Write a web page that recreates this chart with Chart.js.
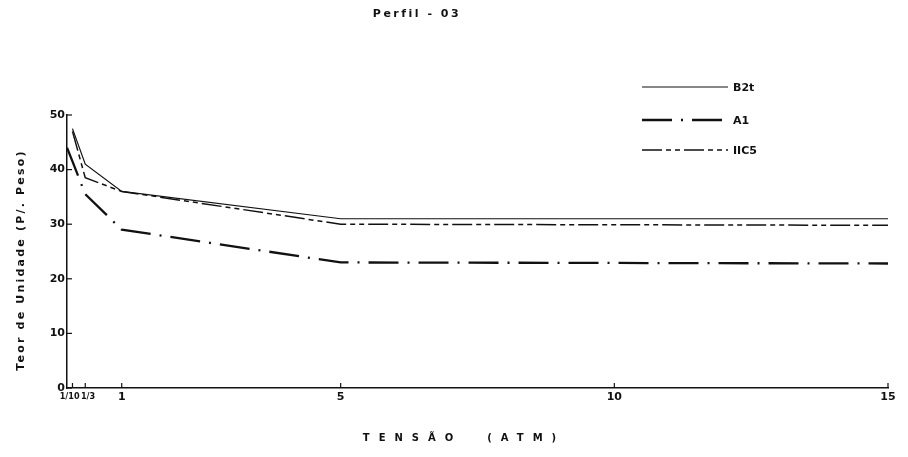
<!DOCTYPE html>
<html>
<head>
<meta charset="utf-8">
<script src="https://cdn.jsdelivr.net/npm/chart.js@4"></script>
<style>
  html, body { margin: 0; padding: 0; background: #fff; }
  canvas { display: block; }
</style>
</head>
<body>
<canvas id="perfilChart" width="908" height="457"></canvas>
<script>
// ------------------------------------------------------
// Perfil - 03 : teor de umidade x tensão
// ------------------------------------------------------

const chartTitle = "Perfil - 03";
const xTitle = "TENSÃO  (ATM)";
const yTitle = "Teor de Unidade (P/. Peso)";

// ticks do eixo X (tensão) e rótulos
const xTickValues = [0.1, 1 / 3, 1, 5, 10, 15];
const xTickLabels = ["1/10", "1/3", "1", "5", "10", "15"];
const yTickValues = [0, 10, 20, 30, 40, 50];

// séries
const seriesNames = ["B2t", "A1", "IIC5"];

const b2tX = [0.1, 1 / 3, 1, 5, 15];
const b2tY = [47.5, 41, 36, 31, 31];

const a1X = [0, 0.1, 1 / 3, 1, 5, 15];
const a1Y = [44, 41.5, 35.5, 29, 23, 22.8];

const iic5X = [0.1, 1 / 3, 1, 5, 15];
const iic5Y = [47, 38.5, 36, 30, 29.8];

function toPoints(xs, ys) {
    return xs.map((x, i) => ({ x: x, y: ys[i] }));
}

const INK = "#111";
const FONT = "'DejaVu Sans', sans-serif";
const FONT_COND = "'DejaVu Sans Condensed', sans-serif";

// títulos, legenda e marcas internas dos eixos
const decorPlugin = {
    id: "decor",
    afterDraw(chart) {
        const ctx = chart.ctx;
        const xs = chart.scales.x;
        const ys = chart.scales.y;
        ctx.save();
        ctx.strokeStyle = INK;
        ctx.fillStyle = INK;

        // marcas dos ticks (para dentro)
        ctx.lineWidth = 1.2;
        ctx.setLineDash([]);
        yTickValues.forEach(v => {
            const py = ys.getPixelForValue(v);
            ctx.beginPath();
            ctx.moveTo(xs.left, py);
            ctx.lineTo(xs.left + 5, py);
            ctx.stroke();
        });
        xTickValues.forEach(v => {
            const px = xs.getPixelForValue(v);
            ctx.beginPath();
            ctx.moveTo(px, ys.bottom);
            ctx.lineTo(px, ys.bottom - 5);
            ctx.stroke();
        });

        // título
        ctx.font = "bold 11px " + FONT;
        ctx.letterSpacing = "2.5px";
        ctx.textAlign = "center";
        ctx.textBaseline = "middle";
        ctx.fillText(chartTitle, 417, 14);

        // título eixo X
        ctx.font = "bold 10px " + FONT;
        ctx.letterSpacing = "9px";
        ctx.fillText(xTitle, 464, 438);

        // título eixo Y
        ctx.save();
        ctx.translate(21, 260);
        ctx.rotate(-Math.PI / 2);
        ctx.font = "bold 11px " + FONT;
        ctx.letterSpacing = "2.2px";
        ctx.fillText(yTitle, 0, 0);
        ctx.restore();

        // legenda
        const legendY = [87, 120, 150];
        ctx.letterSpacing = "0px";
        ctx.textAlign = "left";
        ctx.font = "bold 11px " + FONT;
        chart.data.datasets.forEach((ds, i) => {
            ctx.lineWidth = ds.borderWidth;
            ctx.setLineDash(ds.borderDash || []);
            ctx.beginPath();
            ctx.moveTo(642, legendY[i]);
            ctx.lineTo(728, legendY[i]);
            ctx.stroke();
            ctx.setLineDash([]);
            ctx.fillText(ds.label, 733, legendY[i] + 1);
        });
        ctx.restore();
    }
};

const ctx = document.getElementById("perfilChart").getContext("2d");

new Chart(ctx, {
    type: "line",
    data: {
        datasets: [
            {
                label: seriesNames[0],
                data: toPoints(b2tX, b2tY),
                borderColor: INK,
                borderWidth: 1.2,
                pointRadius: 0,
                tension: 0
            },
            {
                label: seriesNames[1],
                data: toPoints(a1X, a1Y),
                borderColor: INK,
                borderWidth: 2.3,
                borderDash: [30, 9, 2, 9],
                pointRadius: 0,
                tension: 0
            },
            {
                label: seriesNames[2],
                data: toPoints(iic5X, iic5Y),
                borderColor: INK,
                borderWidth: 1.5,
                borderDash: [20, 4, 5, 4, 5, 4],
                pointRadius: 0,
                tension: 0
            }
        ]
    },
    options: {
        responsive: false,
        animation: false,
        devicePixelRatio: 1,
        layout: { padding: { top: 115, right: 20, left: 0, bottom: 0 } },
        plugins: {
            legend: { display: false },
            title: { display: false },
            tooltip: { enabled: false }
        },
        scales: {
            x: {
                type: "linear",
                min: 0,
                max: 15,
                afterFit(scale) { scale.height = 69; },
                afterBuildTicks(scale) {
                    scale.ticks = xTickValues.map(v => ({ value: v }));
                },
                grid: { display: false, drawTicks: false },
                border: { display: true, color: INK, width: 1.5 },
                ticks: {
                    autoSkip: false,
                    maxRotation: 0,
                    padding: 3,
                    color: INK,
                    font: (c) => c.index < 2
                        ? { family: FONT_COND, size: 9, weight: "bold" }
                        : { family: FONT, size: 11, weight: "bold" },
                    callback: (v, i) => i === 0 ? xTickLabels[i] + "  " : (i === 1 ? "  " + xTickLabels[i] : xTickLabels[i])
                }
            },
            y: {
                min: 0,
                max: 50,
                afterFit(scale) { scale.width = 67; },
                afterBuildTicks(scale) {
                    scale.ticks = yTickValues.map(v => ({ value: v }));
                },
                grid: { display: false, drawTicks: false },
                border: { display: true, color: INK, width: 1.5 },
                ticks: {
                    padding: 2,
                    color: INK,
                    font: { family: FONT, size: 11, weight: "bold" }
                }
            }
        }
    },
    plugins: [decorPlugin]
});
</script>
</body>
</html>
